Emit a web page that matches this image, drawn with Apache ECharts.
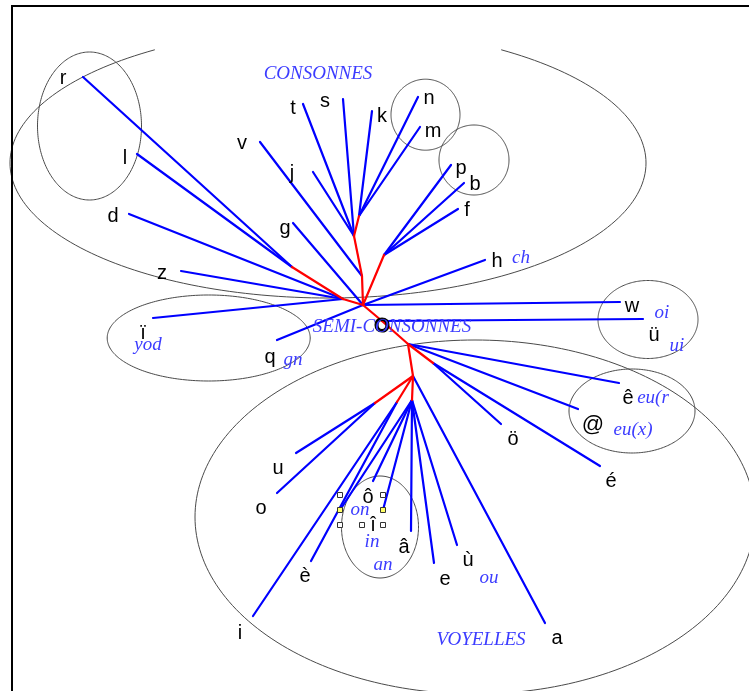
<!DOCTYPE html>
<html><head><meta charset="utf-8">
<script src="https://cdn.jsdelivr.net/npm/echarts@6/dist/echarts.min.js"></script>
<style>html,body{margin:0;padding:0;background:#fff}#c{width:749px;height:691px}</style>
</head><body><div id="c"></div>
<script>
// ---- internal (red) tree nodes ----
const innerName   = ['N0','N8','N7','N3','N4','N5','N6','NO','N1','N9','N2','N10','N11','N12'];
const innerX      = [363, 343, 292, 362, 354, 359, 384, 382, 408, 433, 413, 375, 397, 412];
const innerY      = [305, 299, 267, 276, 236, 216, 255, 321, 344, 363, 376, 403, 402, 400];
const innerParent = [-1,  0,   1,   0,   3,   4,   0,   0,   7,   8,   8,   10,  10,  10];

// ---- leaf tips (blue branches) ----
const tipName   = ['r','l','d','z','ï','v','g','t','s','j','k','n','m','p','b','f','h','q','w','ü','ê','@','ö','é','u','o','i','è','on','ô','î','â','e','ù','a'];
const tipX      = [83, 137,129,181,153,260,293,303,343,313,372,418,420,451,464,458,485,277,620,643,619,578,501,600,296,277,253,311,340,373,383,411,434,457,545];
const tipY      = [77, 154,214,271,318,142,223,104, 99,172,111, 97,127,165,183,209,260,340,302,319,383,409,424,466,453,493,616,561,510,481,510,531,563,545,623];
const tipParent = [2,  2,  1,  1,  1,  3,  0,  4,  4,  4,  5,  5,  5,  6,  6,  6,  0,  0,  0,  7,  8,  8,  9,  9,  11, 11, 12, 12, 13, 13, 13, 13, 13, 13, 10];

// ---- labels ----
const labelText = ['r','l','d','z','ï','q','v','t','s','k','n','m','j','g','p','b','f','h','w','ü','ê','@','ö','é','u','o','ô','î','â','è','i','e','ù','a','O',
  'CONSONNES','SEMI-CONSONNES','VOYELLES','yod','gn','ch','oi','ui','eu(r','eu(x)','on','in','an','ou'];
const labelX = [63,125,113,162,143,270,242,293,325,382,429,433,292,285,461,475,467,497,632,654,628,593,513,611,278,261,368,373,404,305,240,445,468,557,382,
  318,392,481,148,293,521,662,677,653,633,360,372,383,489];
const labelY = [78,158,216,273,333,357,143,108,101,116,98,131,173,228,168,184,210,261,306,335,398,425,439,481,468,508,497,525,547,576,633,579,560,638,326,
  74,327,640,345,360,258,313,346,398,430,510,542,565,578];
const labelKind = ['b','b','b','b','b','b','b','b','b','b','b','b','b','b','b','b','b','b','b','b','b','at','b','b','b','b','b','b','b','b','b','b','b','b','O',
  'i','i','i','i','i','i','i','i','i','i','i','i','i','i'];

// ---- grouping ellipses ----
const ellCX = [328, 89.5, 425.5, 474, 208.7, 648, 632, 475, 380];
const ellCY = [163, 126, 114.7, 160, 338, 319.5, 411, 517, 527];
const ellRX = [318, 52, 34.5, 35, 101.5, 50, 63, 280, 38.5];
const ellRY = [135, 74, 35.5, 35, 43, 39, 42, 177, 51];
const ellStart = [-57, 0, 0, 0, 0, 0, 0, 0, 0];
const ellEnd   = [237, 360, 360, 360, 360, 360, 360, 360, 360];

// ---- selection handles around the ô/î text box ----
const handleX = [340, 340, 340, 362, 383, 383, 383];
const handleY = [495, 510, 525, 525, 495, 510, 525];
const handleHot = [0, 1, 0, 0, 0, 1, 0];

const redEdges = [];
innerX.forEach((x, i) => { const p = innerParent[i]; if (p >= 0) redEdges.push([innerX[p], innerY[p], x, innerY[i]]); });
const blueEdges = tipX.map((x, i) => { const p = tipParent[i]; return [innerX[p], innerY[p], x, tipY[i]]; });

function lineRender(color, w) {
  return function (params, api) {
    const a = api.coord([api.value(0), api.value(1)]);
    const b = api.coord([api.value(2), api.value(3)]);
    return { type: 'line', shape: { x1: a[0], y1: a[1], x2: b[0], y2: b[1] },
      style: { stroke: color, lineWidth: w, lineCap: 'round' } };
  };
}
const fonts = {
  b: 'normal 20px "Liberation Sans", Arial, sans-serif',
  at: 'normal 22px "Liberation Sans", Arial, sans-serif',
  O: 'bold 20px "Liberation Sans", Arial, sans-serif',
  i: 'italic 19px "Liberation Serif", "Times New Roman", serif'
};
const colors = { b: '#000', at: '#000', O: '#000', i: '#3c3cff' };

const chart = echarts.init(document.getElementById('c'), null, { renderer: 'canvas' });
chart.setOption({
  animation: false,
  backgroundColor: '#fff',
  grid: { left: 0, right: 0, top: 0, bottom: 0 },
  xAxis: { type: 'value', min: 0, max: 749, show: false },
  yAxis: { type: 'value', min: 0, max: 691, inverse: true, show: false },
  graphic: [{ type: 'rect', shape: { x: 12, y: 6, width: 780, height: 720 },
    style: { fill: 'none', stroke: '#000', lineWidth: 2 }, z: 100 }],
  series: [
    { type: 'custom', name: 'ellipses', z: 1,
      data: ellCX.map((c, i) => [c, ellCY[i], ellRX[i], ellRY[i], ellStart[i], ellEnd[i]]),
      encode: { x: 0, y: 1 },
      renderItem: function (params, api) {
        const cx = api.value(0), cy = api.value(1), rx = api.value(2), ry = api.value(3);
        const s = api.value(4), e = api.value(5);
        const pts = [];
        for (let t = s; t <= e + 0.001; t += 1.5) {
          const r = t * Math.PI / 180;
          pts.push(api.coord([cx + rx * Math.cos(r), cy + ry * Math.sin(r)]));
        }
        return { type: 'polyline', shape: { points: pts }, style: { stroke: '#4a4a4a', lineWidth: 1, fill: null } };
      } },
    { type: 'custom', name: 'blue', z: 2, data: blueEdges, encode: { x: [0, 2], y: [1, 3] }, renderItem: lineRender('#0000ff', 2.2) },
    { type: 'custom', name: 'red', z: 3, data: redEdges, encode: { x: [0, 2], y: [1, 3] }, renderItem: lineRender('#ff0000', 2.2) },
    { type: 'scatter', name: 'handles', z: 4, symbol: 'rect', symbolSize: 5,
      data: handleX.map((x, i) => ({ value: [x, handleY[i]], itemStyle: { color: handleHot[i] ? '#ffff66' : '#fff' } })),
      itemStyle: { borderColor: '#333', borderWidth: 1, opacity: 1 } },
    { type: 'custom', name: 'labels', z: 5,
      data: labelX.map((x, i) => [x, labelY[i], i]), encode: { x: 0, y: 1 },
      renderItem: function (params, api) {
        const i = api.value(2);
        const p = api.coord([api.value(0), api.value(1)]);
        const k = labelKind[i];
        const st = { text: labelText[i], font: fonts[k], fill: colors[k], align: 'center', verticalAlign: 'middle' };
        if (k === 'O') { st.stroke = '#000'; st.lineWidth = 1.2; }
        return { type: 'text', x: p[0], y: p[1], style: st };
      } }
  ]
});
</script></body></html>
